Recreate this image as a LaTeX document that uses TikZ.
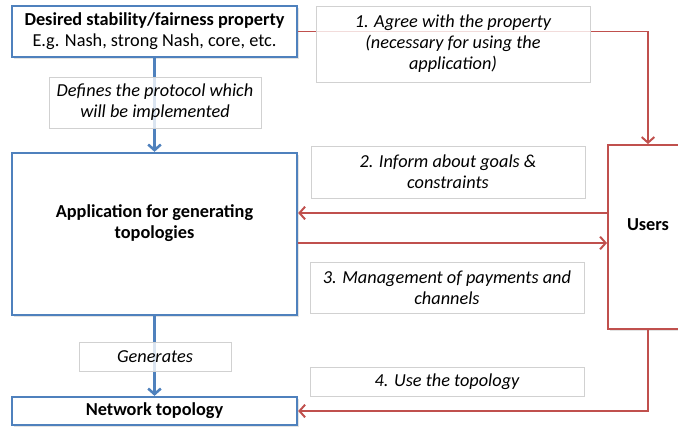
\documentclass[tikz,border=0pt]{standalone}
\usepackage{fontspec}
\setmainfont{Carlito}
\usetikzlibrary{arrows.meta,shadows}

\definecolor{boxblue}{HTML}{4F81BD}
\definecolor{boxred}{HTML}{C0504D}

\begin{document}
\begin{tikzpicture}[x=0.025cm, y=-0.025cm,
    font=\fontsize{13}{15}\selectfont,
    bluebox/.style={draw=boxblue, line width=1.6pt, fill=white, align=center,
        drop shadow={fill=black!22, draw=none, shadow xshift=1.5pt, shadow yshift=-1.5pt}},
    redbox/.style={draw=boxred, line width=1.4pt, fill=white, align=center,
        drop shadow={fill=black!22, draw=none, shadow xshift=1.5pt, shadow yshift=-1.5pt}},
    note/.style={draw=black!18, line width=0.6pt, fill=white, fill opacity=0.8,
        text opacity=1, font=\fontsize{13}{15}\selectfont\itshape, align=center},
    blueline/.style={draw=boxblue, line width=1.8pt, -{Straight Barb[length=4pt,width=9pt]}},
    redline/.style={draw=boxred, line width=1.4pt, -{Straight Barb[length=4pt,width=9pt]}}]
    \useasboundingbox (0,0) rectangle (678,428);
    \clip (0,0) rectangle (678,428);

    % Boxes {prop, app, net, users}
    \node [bluebox, minimum width=7.125cm, minimum height=1.275cm] (prop) at (154.5,31.5)
        {\textbf{Desired stability/fairness property}\\E.g. Nash, strong Nash, core, etc.};
    \node [bluebox, minimum width=7.125cm, minimum height=4.05cm, text depth=0.6cm] (app) at (154.5,234)
        {\textbf{Application for generating}\\\textbf{topologies}};
    \node [bluebox, minimum width=7.125cm, minimum height=0.7cm] (net) at (154.5,411)
        {\textbf{Network topology}};
    \node [redbox, minimum width=2cm, minimum height=4.6cm, text depth=0.6cm] (users) at (648,237)
        {\textbf{Users}};

    % Paths
    \path [blueline] (prop) -- (app);
    \path [blueline] (app) -- (net);
    \path [redline] (prop.east) -| (users.north);
    \path [redline] ([yshift=0.525cm]app.east -| users.west) -- ([yshift=0.525cm]app.east);
    \path [redline] ([yshift=-0.225cm]app.east) -- ([yshift=-0.225cm]app.east -| users.west);
    \path [redline] (users.south) |- (net.east);

    % Notes
    \node [note, minimum width=5.3cm, minimum height=1.275cm] (defines) at (155,102.5)
        {Defines the protocol which\\will be implemented};
    \node [note, minimum width=3.8cm, minimum height=0.725cm] (generates) at (155,356.5)
        {Generates};
    \node [note, minimum width=6.85cm, minimum height=1.9cm] (agree) at (453,44)
        {1. Agree with the property\\(necessary for using the\\application)};
    \node [note, minimum width=6.85cm, minimum height=1.3cm] (inform) at (448,172)
        {2. Inform about goals \&\\constraints};
    \node [note, minimum width=6.85cm, minimum height=1.275cm] (manage) at (447,287.5)
        {3. Management of payments and\\channels};
    \node [note, minimum width=6.85cm, minimum height=0.725cm] (use) at (447,381.5)
        {4. Use the topology};
\end{tikzpicture}
\end{document}
